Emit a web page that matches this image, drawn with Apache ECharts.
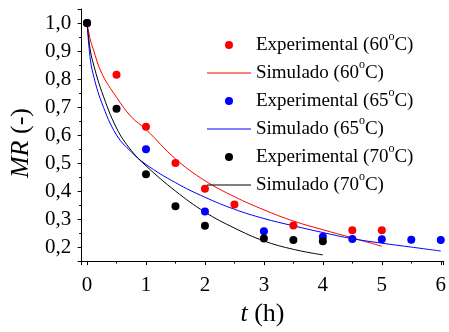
<!DOCTYPE html>
<html>
<head>
<meta charset="utf-8">
<script src="https://cdn.jsdelivr.net/npm/echarts@6/dist/echarts.min.js"></script>
<style>
  html, body { margin: 0; padding: 0; background: #fff; }
  #chart { width: 449px; height: 332px; }
</style>
</head>
<body>
<div id="chart"></div>
<script>
// experimental points
const expTime60 = [0, 0.5, 1, 1.5, 2, 2.5, 3.5, 4.5, 5];
const expMR60 = [1.0, 0.815, 0.63, 0.5, 0.408, 0.352, 0.277, 0.26, 0.26];
const expTime65 = [0, 1, 2, 3, 4, 4.5, 5, 5.5, 6];
const expMR65 = [1.0, 0.549, 0.327, 0.257, 0.237, 0.229, 0.228, 0.226, 0.225];
const expTime70 = [0, 0.5, 1, 1.5, 2, 3, 3.5, 4];
const expMR70 = [1.0, 0.694, 0.46, 0.346, 0.276, 0.231, 0.225, 0.221];

// simulated curves
const simTime = [0, 0.05, 0.1, 0.25, 0.5, 0.75, 1, 1.5, 2, 2.5, 3, 3.5, 4, 4.5, 5, 5.5, 6];
const simMR60 = [1.0, 0.945, 0.91, 0.82, 0.735, 0.665, 0.62, 0.515, 0.437, 0.38, 0.333, 0.293, 0.262, 0.233, 0.203];
const simMR65 = [1.0, 0.88, 0.82, 0.715, 0.6, 0.54, 0.495, 0.43, 0.378, 0.335, 0.302, 0.276, 0.252, 0.23, 0.214, 0.2, 0.186];
const simMR70 = [1.0, 0.91, 0.86, 0.755, 0.625, 0.545, 0.49, 0.4, 0.325, 0.268, 0.222, 0.192, 0.172];

const legendNames = [
  "Experimental (60°C)",
  "Simulado (60°C)",
  "Experimental (65°C)",
  "Simulado (65°C)",
  "Experimental (70°C)",
  "Simulado (70°C)",
];

const FONT = "Liberation Serif";
const LINE_ICON = "path://M0 0h44v1h-44z";

const zip = (xs, ys) => ys.map((y, i) => [xs[i], y]);

const expSeries = (name, color, xs, ys) => ({
  name: name,
  type: "scatter",
  symbol: "circle",
  symbolSize: 8,
  itemStyle: { color: color, opacity: 1 },
  z: 3,
  data: zip(xs, ys),
});

const simSeries = (name, color, ys) => ({
  name: name,
  type: "line",
  showSymbol: false,
  symbol: "none",
  smooth: 0.4,
  lineStyle: { color: color, width: 1 },
  itemStyle: { color: color },
  z: 2,
  data: zip(simTime, ys),
});

const chart = echarts.init(document.getElementById("chart"));

const option = {
  animation: false,
  backgroundColor: "#fff",
  grid: { left: 81, right: 0, top: 9, bottom: 49 },
  legend: {
    orient: "vertical",
    left: 207,
    top: 31,
    padding: 0,
    itemWidth: 44,
    itemHeight: 8,
    itemGap: 0,
    selectedMode: false,
    formatter: (name) => name.replace("°", "{s|o}"),
    textStyle: {
      fontFamily: FONT,
      fontSize: 19,
      color: "#000",
      lineHeight: 28,
      rich: {
        s: { fontFamily: FONT, fontSize: 12, lineHeight: 18, verticalAlign: "top", color: "#000" },
      },
    },
    data: legendNames.map((n) => ({
      name: n,
      icon: n.startsWith("Simulado") ? LINE_ICON : "circle",
    })),
  },
  xAxis: {
    type: "value",
    min: -0.1,
    max: 6.05,
    splitNumber: 6,
    name: "{i|t} (h)",
    nameLocation: "middle",
    nameGap: 31,
    nameTextStyle: {
      fontFamily: FONT,
      fontSize: 26,
      color: "#000",
      rich: { i: { fontFamily: FONT, fontSize: 26, fontStyle: "italic", color: "#000" } },
    },
    axisLine: { show: true, onZero: false, lineStyle: { color: "#000", width: 1 } },
    axisTick: { show: true, inside: false, length: 4, lineStyle: { color: "#000" } },
    minorTick: { show: true, splitNumber: 2, length: 2.5, lineStyle: { color: "#000" } },
    splitLine: { show: false },
    axisLabel: {
      showMinLabel: false,
      showMaxLabel: false,
      margin: 14,
      fontFamily: FONT,
      fontSize: 21,
      color: "#000",
      formatter: (v) => String(Math.round(v)),
    },
  },
  yAxis: {
    type: "value",
    min: 0.15,
    max: 1.05,
    splitNumber: 9,
    name: "{i|MR} (-)",
    nameLocation: "middle",
    nameRotate: 90,
    nameGap: 45,
    nameTextStyle: {
      fontFamily: FONT,
      fontSize: 26,
      color: "#000",
      padding: [0, 16, 0, 0],
      rich: { i: { fontFamily: FONT, fontSize: 26, fontStyle: "italic", color: "#000" } },
    },
    axisLine: { show: true, onZero: false, lineStyle: { color: "#000", width: 1 } },
    axisTick: { show: true, inside: false, length: 3.5, lineStyle: { color: "#000" } },
    minorTick: { show: true, splitNumber: 2, length: 2, lineStyle: { color: "#000" } },
    splitLine: { show: false },
    axisLabel: {
      showMinLabel: false,
      showMaxLabel: false,
      margin: 10,
      fontFamily: FONT,
      fontSize: 21,
      color: "#000",
      formatter: (v) => v.toFixed(1).replace(".", ","),
    },
  },
  series: [
    simSeries("Simulado (60°C)", "#ff0000", simMR60),
    simSeries("Simulado (65°C)", "#0000ff", simMR65),
    simSeries("Simulado (70°C)", "#000000", simMR70),
    expSeries("Experimental (60°C)", "#ff0000", expTime60, expMR60),
    expSeries("Experimental (65°C)", "#0000ff", expTime65, expMR65),
    expSeries("Experimental (70°C)", "#000000", expTime70, expMR70),
  ],
};

chart.setOption(option);
</script>
</body>
</html>
